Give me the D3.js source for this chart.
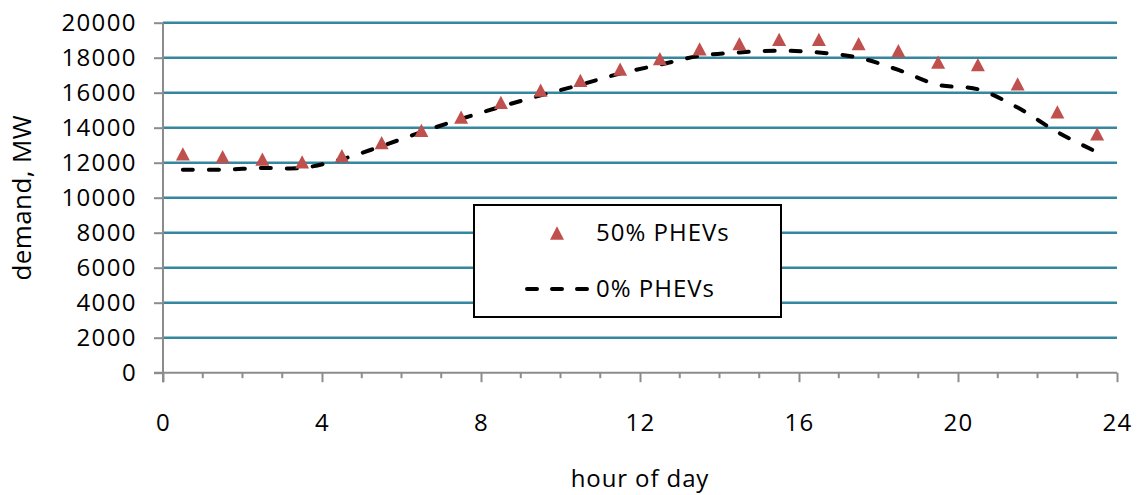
<!DOCTYPE html>
<html>
<head>
<meta charset="utf-8">
<script src="https://cdn.jsdelivr.net/npm/d3@7"></script>
<style>
  html, body { margin: 0; padding: 0; background: #ffffff; }
  svg { display: block; }
  text { font-family: "Open Sans", "Liberation Sans", sans-serif; fill: #000; }
</style>
</head>
<body>
<svg id="chart" width="1140" height="495"></svg>
<script>
// Hour of day (mid-hour positions)
const hours = [0.5, 1.5, 2.5, 3.5, 4.5, 5.5, 6.5, 7.5, 8.5, 9.5, 10.5, 11.5,
               12.5, 13.5, 14.5, 15.5, 16.5, 17.5, 18.5, 19.5, 20.5, 21.5, 22.5, 23.5];

// Demand with 50% plug-in hybrid penetration, MW
const demand50 = [12500, 12350, 12200, 12050, 12400, 13150, 13850, 14600, 15450, 16150, 16700, 17350,
                  17950, 18500, 18800, 19050, 19050, 18800, 18400, 17750, 17600, 16500, 14900, 13650];

// Baseline demand without plug-in hybrids, MW
const demand0 = [11600, 11600, 11700, 11700, 12200, 12950, 13750, 14500, 15200, 15850, 16450, 17100,
                 17600, 18100, 18300, 18400, 18300, 18000, 17300, 16450, 16200, 15150, 13750, 12600];

const xTicks = [0, 4, 8, 12, 16, 20, 24];
const xMinorTicks = [1, 2, 3, 5, 6, 7, 9, 10, 11, 13, 14, 15, 17, 18, 19, 21, 22, 23];
const yTicks = [0, 2000, 4000, 6000, 8000, 10000, 12000, 14000, 16000, 18000, 20000];

const seriesNames = ["50% PHEVs", "0% PHEVs"];

const svg = d3.select("#chart");
const plotLeft = 163, plotRight = 1117, plotTop = 22.7, plotBottom = 372.7;

const x = d3.scaleLinear().domain([0, 24]).range([plotLeft, plotRight]);
const y = d3.scaleLinear().domain([0, 20000]).range([plotBottom, plotTop]);

const axisGray = "#8c8c8c";
const gridColor = "#34879e";
const markerColor = "#c0504d";

// Horizontal gridlines
svg.append("g")
  .selectAll("line")
  .data(yTicks.filter(d => d > 0))
  .join("line")
  .attr("x1", plotLeft).attr("x2", plotRight)
  .attr("y1", d => y(d)).attr("y2", d => y(d))
  .attr("stroke", gridColor)
  .attr("stroke-width", 2.4);

// Y axis
const yAxis = svg.append("g")
  .attr("transform", `translate(${plotLeft},0)`)
  .call(d3.axisLeft(y).tickValues(yTicks).tickSize(9).tickPadding(17).tickFormat(d3.format("d")));
yAxis.select(".domain").attr("stroke", axisGray).attr("stroke-width", 2)
  .attr("d", `M0,${plotTop}V${plotBottom + 9.5}`);
yAxis.selectAll(".tick line").attr("stroke", axisGray).attr("stroke-width", 2);
yAxis.selectAll(".tick text")
  .attr("font-size", 24).attr("letter-spacing", 1.4)
  .style("font-family", "'Open Sans', sans-serif").attr("fill", "#000");

// X axis: major ticks every 4 hours, minor ticks every hour
const xAxis = svg.append("g")
  .attr("transform", `translate(0,${plotBottom})`)
  .call(d3.axisBottom(x).tickValues(xTicks).tickSize(9.5).tickPadding(32).tickFormat(d3.format("d")));
xAxis.select(".domain").attr("stroke", axisGray).attr("stroke-width", 2)
  .attr("d", `M${plotLeft - 9},0H${plotRight}`);
xAxis.selectAll(".tick line").attr("stroke", axisGray).attr("stroke-width", 2);
xAxis.selectAll(".tick text")
  .attr("font-size", 24).attr("letter-spacing", 1.4)
  .style("font-family", "'Open Sans', sans-serif").attr("fill", "#000");

svg.append("g")
  .attr("transform", `translate(0,${plotBottom})`)
  .selectAll("line")
  .data(xMinorTicks)
  .join("line")
  .attr("x1", d => x(d)).attr("x2", d => x(d))
  .attr("y1", 0).attr("y2", 5.5)
  .attr("stroke", axisGray).attr("stroke-width", 2);

// Axis titles
svg.append("text")
  .attr("x", (plotLeft + plotRight) / 2).attr("y", 487)
  .attr("text-anchor", "middle")
  .attr("font-size", 24).attr("letter-spacing", 0.9)
  .text("hour of day");

svg.append("text")
  .attr("transform", `translate(31,${(plotTop + plotBottom) / 2}) rotate(-90)`)
  .attr("text-anchor", "middle")
  .attr("font-size", 26).attr("letter-spacing", 0.4)
  .text("demand, MW");

// Baseline demand: smoothed dashed line
const line = d3.line()
  .x((d, i) => x(hours[i]))
  .y(d => y(d))
  .curve(d3.curveCatmullRom.alpha(0.5));

svg.append("path")
  .datum(demand0)
  .attr("d", line)
  .attr("fill", "none")
  .attr("stroke", "#000")
  .attr("stroke-width", 4)
  .attr("stroke-linecap", "round")
  .attr("stroke-dasharray", "10,16");

// Triangle marker path centred on (cx, cy)
const triW = 14, triH = 13.3;
function trianglePath(cx, cy) {
  const p = d3.path();
  p.moveTo(cx, cy - triH / 2);
  p.lineTo(cx + triW / 2, cy + triH / 2);
  p.lineTo(cx - triW / 2, cy + triH / 2);
  p.closePath();
  return p.toString();
}

svg.append("g")
  .selectAll("path")
  .data(demand50)
  .join("path")
  .attr("d", (d, i) => trianglePath(x(hours[i]), y(d)))
  .attr("fill", markerColor);

// Legend
const legend = svg.append("g");
legend.append("rect")
  .attr("x", 474).attr("y", 205)
  .attr("width", 307).attr("height", 112)
  .attr("fill", "#fff")
  .attr("stroke", "#000")
  .attr("stroke-width", 2);

legend.append("path")
  .attr("d", trianglePath(557, 233))
  .attr("fill", markerColor);
legend.append("text")
  .attr("x", 596).attr("y", 233).attr("dy", "0.35em")
  .attr("font-size", 24).attr("letter-spacing", 1)
  .text(seriesNames[0]);

legend.append("line")
  .attr("x1", 527).attr("x2", 590)
  .attr("y1", 289).attr("y2", 289)
  .attr("stroke", "#000")
  .attr("stroke-width", 4)
  .attr("stroke-linecap", "round")
  .attr("stroke-dasharray", "10,15");
legend.append("text")
  .attr("x", 596).attr("y", 289).attr("dy", "0.35em")
  .attr("font-size", 24).attr("letter-spacing", 1)
  .text(seriesNames[1]);
</script>
</body>
</html>
